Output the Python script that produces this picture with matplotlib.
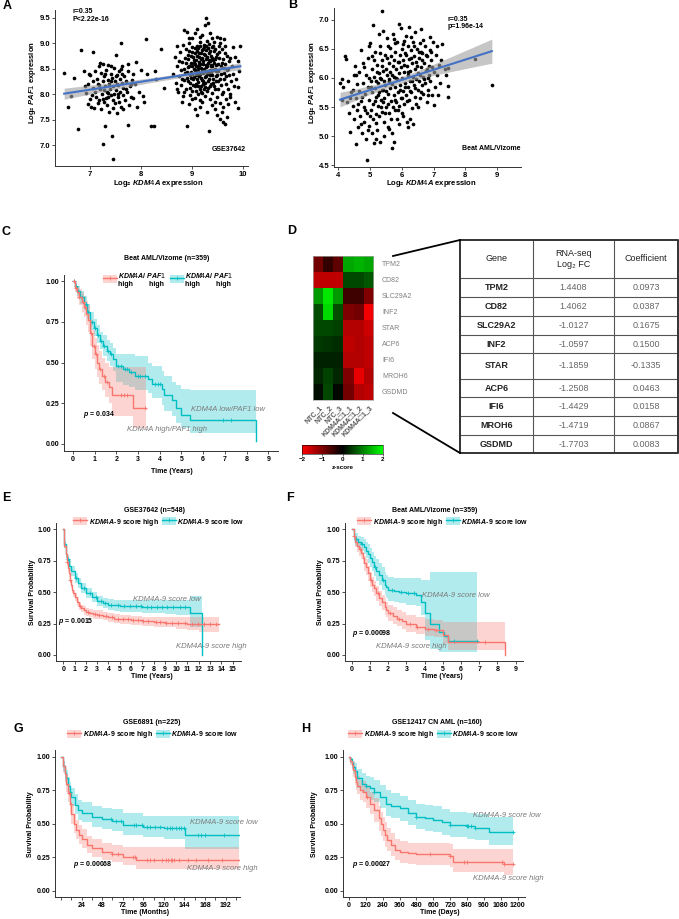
import numpy as np
import matplotlib
matplotlib.use('Agg')
from matplotlib import pyplot as plt
from matplotlib.colors import LinearSegmentedColormap
from matplotlib.patches import Patch
from matplotlib.lines import Line2D

plt.rcParams['font.family'] = ['Liberation Sans', 'DejaVu Sans']
plt.rcParams['mathtext.fontset'] = 'custom'
plt.rcParams['mathtext.rm'] = 'Liberation Sans'
plt.rcParams['mathtext.it'] = 'Liberation Sans:italic:bold'
plt.rcParams['mathtext.bf'] = 'Liberation Sans:bold'

W, H = 679, 919
RED = '#F8766D'
TEAL = '#00BFC4'
GREYTXT = '#7a7a7a'

# ---------------- data ----------------
# A: GSE37642, log2 KDM4A vs log2 PAF1
a_pts = [
    (6.49, 8.41), (6.57, 7.74), (6.63, 7.96), (6.69, 8.32), (6.76, 7.32), (6.83, 8.86), (6.88, 8.45), (6.90, 8.15),
    (6.92, 8.02), (6.95, 7.80), (6.97, 8.40), (7.00, 8.38), (7.02, 7.75), (7.03, 7.98), (7.05, 8.83), (7.05, 8.12),
    (7.08, 7.72), (7.10, 8.05), (7.12, 7.95), (7.13, 8.30), (7.15, 8.20), (7.17, 7.88), (7.18, 8.55), (7.20, 8.10),
    (7.21, 8.42), (7.22, 7.70), (7.23, 8.00), (7.25, 7.03), (7.25, 8.25), (7.26, 8.60), (7.27, 7.85), (7.28, 8.35),
    (7.30, 7.38), (7.30, 8.15), (7.31, 7.92), (7.32, 8.48), (7.33, 8.05), (7.34, 7.78), (7.35, 8.28), (7.36, 8.58),
    (7.37, 7.65), (7.38, 8.20), (7.39, 8.10), (7.40, 7.98), (7.41, 8.40), (7.42, 7.18), (7.43, 8.32), (7.44, 7.88),
    (7.45, 6.73), (7.45, 8.15), (7.46, 8.52), (7.47, 8.00), (7.48, 7.82), (7.49, 8.25), (7.50, 8.77), (7.50, 8.08),
    (7.52, 7.62), (7.53, 8.38), (7.54, 7.95), (7.55, 8.18), (7.56, 8.45), (7.57, 7.85), (7.58, 8.30), (7.59, 8.05),
    (7.60, 9.00), (7.61, 7.75), (7.62, 8.22), (7.63, 8.55), (7.64, 7.98), (7.65, 8.12), (7.67, 8.35), (7.68, 7.88),
    (7.70, 8.25), (7.72, 8.05), (7.74, 8.45), (7.75, 7.40), (7.76, 7.78), (7.78, 8.15), (7.80, 7.95), (7.82, 8.28),
    (7.85, 7.92), (7.88, 8.20), (7.90, 8.63), (7.92, 7.75), (7.95, 8.05), (8.00, 8.48), (8.03, 7.97), (8.05, 7.85),
    (8.10, 9.08), (8.12, 8.40), (8.20, 7.38), (8.25, 7.37), (8.28, 8.45), (8.30, 8.30), (8.40, 8.88), (8.45, 8.12),
    (7.05, 8.25), (7.10, 8.45), (7.15, 7.82), (7.20, 8.62), (7.25, 7.90), (7.30, 8.40), (7.35, 8.02), (7.40, 8.55),
    (7.45, 7.72), (7.50, 8.35), (7.55, 8.00), (7.60, 8.50), (7.65, 7.70), (7.70, 8.10), (7.75, 8.60), (7.80, 8.20),
    (7.85, 8.40), (7.00, 7.90), (6.95, 8.20), (7.40, 8.25), (7.52, 8.20), (7.28, 8.08), (7.62, 8.40), (7.18, 8.18),
    (7.36, 7.95),
    (9.28, 9.50), (9.25, 9.36), (9.31, 9.39), (8.85, 9.25), (8.90, 9.22), (9.05, 9.20), (8.95, 9.10), (9.15, 9.12),
    (9.40, 9.10), (9.50, 9.12), (9.55, 9.10), (9.62, 9.08), (8.70, 8.95), (9.80, 8.92), (9.95, 8.95), (9.85, 8.72),
    (9.90, 8.65), (9.90, 8.13), (9.90, 7.72), (9.75, 8.00), (9.70, 7.80), (9.60, 7.45), (9.65, 7.42), (9.55, 7.52),
    (9.58, 7.65), (9.33, 7.27), (8.90, 7.37), (9.10, 7.60), (9.15, 7.75), (8.80, 7.85), (9.00, 7.90), (9.45, 7.70),
    (9.68, 7.55),
    (8.62, 8.40), (8.66, 8.72), (8.68, 8.22), (8.71, 8.55), (8.73, 8.05), (8.74, 8.36), (8.76, 8.82), (8.78, 8.18),
    (8.79, 8.48), (8.81, 8.63), (8.82, 8.96), (8.83, 7.96), (8.84, 8.27), (8.86, 8.41), (8.87, 8.71), (8.88, 8.88),
    (8.89, 8.11), (8.91, 8.31), (8.92, 8.53), (8.93, 8.77), (8.94, 9.01), (8.96, 7.99), (8.97, 8.21), (8.98, 8.43),
    (8.99, 8.61), (9.00, 8.83), (9.01, 8.06), (9.02, 8.29), (9.03, 8.49), (9.04, 8.67), (9.05, 8.91), (9.06, 7.93),
    (9.06, 8.16), (9.07, 8.37), (9.08, 8.56), (9.09, 8.74), (9.10, 8.95), (9.11, 8.01), (9.12, 8.23), (9.12, 8.45),
    (9.13, 8.63), (9.14, 8.81), (9.15, 9.02), (9.16, 7.88), (9.16, 8.11), (9.17, 8.31), (9.18, 8.51), (9.18, 8.69),
    (9.19, 8.87), (9.20, 8.03), (9.21, 8.20), (9.21, 8.41), (9.22, 8.59), (9.23, 8.79), (9.24, 8.97), (9.25, 7.96),
    (9.25, 8.13), (9.26, 8.34), (9.27, 8.53), (9.27, 8.68), (9.28, 8.86), (9.29, 9.05), (9.30, 8.06), (9.31, 8.26),
    (9.31, 8.46), (9.32, 8.62), (9.33, 8.80), (9.34, 8.99), (9.35, 7.91), (9.35, 8.16), (9.36, 8.38), (9.37, 8.55),
    (9.38, 8.75), (9.39, 8.92), (9.40, 8.02), (9.41, 8.22), (9.42, 8.48), (9.42, 8.66), (9.43, 8.85), (9.44, 9.03),
    (9.45, 7.85), (9.46, 8.10), (9.47, 8.35), (9.48, 8.58), (9.49, 8.78), (9.50, 7.95), (9.51, 8.25), (9.52, 8.45),
    (9.53, 8.70), (9.54, 8.95), (9.55, 7.82), (9.56, 8.18), (9.57, 8.40), (9.58, 8.62), (9.59, 8.88), (9.61, 8.05),
    (9.62, 8.30), (9.63, 8.52), (9.64, 8.80), (9.66, 7.90), (9.67, 8.20), (9.68, 8.48), (9.69, 8.75), (9.71, 8.10),
    (9.72, 8.38), (9.73, 8.65), (9.76, 8.25), (9.78, 8.55), (9.05, 8.60), (9.15, 8.40), (9.20, 8.70), (9.10, 8.30),
    (9.25, 8.45), (9.00, 8.40), (9.30, 8.55), (9.35, 8.65), (8.95, 8.55), (9.12, 8.90), (9.22, 8.25), (9.18, 8.15),
    (9.28, 8.35), (9.08, 8.20), (9.40, 8.38), (9.38, 8.58), (9.33, 8.42), (9.45, 8.68), (9.02, 8.72), (9.48, 8.45),
    (8.98, 8.32), (9.23, 8.92), (9.14, 8.58),
    (8.85, 8.50), (8.88, 8.62), (8.90, 8.44), (8.92, 8.68), (8.93, 8.25), (8.95, 8.85), (8.96, 8.38), (8.97, 8.12),
    (8.99, 8.74), (9.00, 8.56), (9.01, 8.93), (9.02, 8.18), (9.03, 8.62), (9.04, 8.34), (9.05, 8.80), (9.06, 8.48),
    (9.07, 8.07), (9.08, 8.66), (9.09, 8.40), (9.10, 8.85), (9.11, 8.52), (9.12, 8.15), (9.13, 8.72), (9.14, 8.35),
    (9.15, 8.95), (9.16, 8.60), (9.17, 8.05), (9.18, 8.80), (9.19, 8.45), (9.20, 8.28), (9.21, 8.88), (9.22, 8.64),
    (9.23, 8.10), (9.24, 8.50), (9.25, 8.76), (9.26, 8.22), (9.27, 8.95), (9.28, 8.58), (9.29, 8.40), (9.30, 8.72),
    (9.31, 8.12), (9.32, 8.90), (9.33, 8.30), (9.34, 8.66), (9.35, 8.48), (9.36, 8.84), (9.37, 8.20), (9.38, 8.43),
    (9.39, 8.70), (9.40, 8.55), (9.41, 8.95), (9.42, 8.30), (9.43, 8.62), (9.44, 8.15), (9.45, 8.50), (9.46, 8.88),
    (9.47, 8.25), (9.48, 8.72), (9.50, 8.38), (9.51, 8.60), (9.52, 8.10), (9.53, 8.82), (9.55, 8.30), (9.56, 8.55),
    (9.58, 8.00), (9.60, 8.68), (9.62, 8.42), (9.65, 8.60), (9.67, 8.35), (9.70, 8.50), (9.74, 8.70), (9.80, 8.40),
    (9.82, 8.15), (9.86, 8.30), (9.92, 8.45), (8.95, 7.80), (9.20, 7.85), (9.40, 7.78), (9.05, 7.70), (9.50, 7.60),
    (9.30, 7.65), (9.60, 7.75), (8.80, 8.30), (8.75, 8.65), (8.70, 8.10), (9.55, 9.00), (9.65, 8.95), (9.00, 9.10),
    (9.20, 9.15), (9.35, 9.20), (9.10, 9.28), (8.85, 8.05), (9.75, 7.95), (9.85, 7.85),
]

# B: Beat AML/Vizome
b_pts = [
    (4.05, 5.92), (4.10, 5.98), (4.12, 5.62), (4.15, 5.85), (4.20, 6.38), (4.25, 6.33), (4.28, 5.58), (4.30, 5.95),
    (4.33, 5.40), (4.38, 5.07), (4.40, 5.75), (4.45, 5.52), (4.48, 6.05), (4.50, 5.30),
    (4.52, 6.20), (4.55, 4.86), (4.56, 5.65), (4.58, 5.90), (4.60, 5.45), (4.62, 5.15), (4.64, 6.10), (4.66, 5.78),
    (4.68, 5.35), (4.70, 6.48), (4.72, 5.60), (4.74, 5.05), (4.76, 5.92), (4.78, 6.25), (4.80, 5.50), (4.82, 5.25),
    (4.84, 5.72), (4.86, 6.05), (4.88, 4.95), (4.90, 4.59), (4.90, 5.40), (4.92, 5.85), (4.94, 6.35), (4.96, 5.62),
    (4.98, 5.18),
    (5.00, 6.60), (5.02, 5.95), (5.03, 5.45), (5.05, 5.75), (5.06, 6.15), (5.08, 5.30), (5.10, 6.90), (5.10, 5.55),
    (5.12, 4.88), (5.13, 6.02), (5.15, 5.82), (5.16, 6.45), (5.18, 5.38), (5.20, 5.68), (5.21, 6.22), (5.23, 5.10),
    (5.24, 5.92), (5.26, 5.52), (5.28, 6.08), (5.29, 5.75), (5.30, 6.55), (5.32, 4.90), (5.33, 5.62), (5.35, 5.98),
    (5.36, 6.30), (5.37, 7.14), (5.38, 5.42), (5.40, 5.80), (5.42, 6.81), (5.42, 6.12), (5.44, 5.25), (5.45, 5.65),
    (5.46, 6.40), (5.48, 5.88),
    (5.50, 5.50), (5.52, 6.05), (5.53, 6.68), (5.55, 5.72), (5.56, 5.15), (5.58, 6.25), (5.59, 5.95), (5.60, 5.40),
    (5.62, 6.52), (5.63, 5.82), (5.64, 6.10), (5.66, 5.60), (5.67, 6.38), (5.68, 5.05), (5.70, 5.90), (5.71, 6.20),
    (5.72, 6.75), (5.74, 4.90), (5.74, 5.70), (5.76, 6.02), (5.77, 5.45), (5.78, 6.45), (5.80, 5.85), (5.81, 6.15),
    (5.82, 5.58), (5.84, 6.62), (5.85, 5.98), (5.86, 5.30), (5.88, 6.28), (5.89, 5.75), (5.90, 6.08), (5.92, 5.52),
    (5.93, 6.40), (5.94, 5.88), (5.96, 6.85), (5.97, 6.18), (5.98, 5.65),
    (6.00, 6.00), (6.01, 5.40), (6.03, 6.30), (6.04, 5.78), (6.05, 6.58), (6.07, 6.10), (6.08, 5.55), (6.10, 5.92),
    (6.11, 6.42), (6.12, 6.72), (6.14, 5.70), (6.15, 6.20), (6.16, 5.25), (6.18, 6.05), (6.19, 6.55), (6.20, 5.85),
    (6.22, 6.32), (6.23, 5.62), (6.24, 6.88), (6.26, 6.12), (6.27, 5.95), (6.28, 6.48), (6.30, 5.75), (6.31, 6.25),
    (6.32, 5.48), (6.34, 6.02), (6.35, 6.62), (6.36, 5.20), (6.37, 5.88), (6.38, 6.38), (6.40, 6.15), (6.41, 5.68),
    (6.42, 6.78), (6.44, 5.98), (6.45, 6.28), (6.46, 5.55), (6.48, 6.50),
    (6.50, 6.08), (6.52, 5.80), (6.53, 6.35), (6.55, 5.95), (6.56, 6.60), (6.58, 5.65), (6.60, 6.18), (6.62, 6.84),
    (6.63, 5.88), (6.65, 6.42), (6.66, 6.02), (6.68, 5.72), (6.70, 6.25), (6.72, 6.55), (6.74, 5.92), (6.76, 6.12),
    (6.78, 5.58), (6.80, 6.38), (6.82, 6.00), (6.84, 5.80), (6.86, 6.20), (6.88, 6.48), (6.90, 5.95), (6.92, 6.30),
    (6.95, 5.70), (6.97, 6.62), (7.00, 5.53), (7.00, 6.10),
    (7.05, 5.85), (7.08, 6.40), (7.10, 6.05), (7.15, 5.70), (7.18, 6.22), (7.22, 5.92), (7.28, 6.58), (7.35, 6.15),
    (7.47, 6.17), (7.47, 5.86), (7.47, 5.67), (8.31, 6.32), (8.84, 5.88),
    (5.76, 6.67), (6.08, 6.64), (5.28, 6.75), (5.90, 6.92),
    (4.62, 5.55), (4.70, 5.20), (4.75, 5.68), (4.85, 5.45), (4.92, 5.10), (4.96, 6.00), (5.00, 5.35), (5.04, 5.85),
    (5.07, 5.05), (5.11, 6.30), (5.14, 5.60), (5.17, 5.95), (5.19, 5.22), (5.22, 6.10), (5.25, 5.70), (5.27, 5.35),
    (5.31, 6.00), (5.34, 5.50), (5.37, 5.80), (5.39, 6.20), (5.41, 5.58), (5.43, 5.95), (5.47, 5.40), (5.49, 6.15),
    (5.51, 5.78), (5.54, 6.35), (5.57, 5.55), (5.61, 5.98), (5.65, 5.30), (5.69, 6.05), (5.73, 5.50), (5.75, 6.30),
    (5.79, 5.62), (5.83, 6.00), (5.87, 5.45), (5.91, 6.28), (5.95, 5.80), (5.99, 6.50), (6.02, 5.65), (6.06, 6.22),
    (6.09, 5.85), (6.13, 6.40), (6.17, 5.60), (6.21, 6.10), (6.25, 5.78), (6.29, 6.35), (6.33, 5.95), (6.39, 6.55),
    (6.43, 5.82), (6.47, 6.20), (6.51, 5.50), (6.54, 6.45), (6.57, 6.05), (6.61, 5.75), (6.64, 6.30), (6.67, 6.65),
    (6.71, 5.98), (6.75, 6.40), (6.79, 6.15), (6.83, 5.70), (6.87, 6.05), (6.91, 6.45), (6.96, 6.18), (5.20, 4.95),
    (5.45, 5.00), (5.60, 5.12), (5.90, 5.20), (6.05, 5.35), (6.25, 5.30), (5.05, 6.38), (5.30, 6.42), (5.55, 6.55),
    (5.80, 6.60), (6.30, 6.70), (6.60, 6.45), (6.90, 6.70), (4.45, 5.80), (4.55, 6.05), (4.35, 5.65), (4.80, 6.18),
    (4.95, 6.55), (5.70, 4.80), (6.20, 5.15), (7.12, 6.55), (7.25, 6.30), (7.40, 6.05),
]

# D: heatmap (z-score) and table
hm_genes = ['TPM2', 'CD82', 'SLC29A2', 'INF2', 'STAR', 'ACP6', 'IFI6', 'MROH6', 'GSDMD']
hm_samples = ['NTC_1', 'NTC_2', 'NTC_3', 'KDM4A\u25a11_1', 'KDM4A\u25a11_2', 'KDM4A\u25a11_3']
hm_z = [
    [-0.9, -0.4, -0.75, 1.3, 1.4, 1.3],
    [-1.5, -1.5, -1.5, 0.55, 0.55, 0.7],
    [1.2, 1.8, 1.2, -0.5, -0.5, -1.0],
    [0.6, 1.7, 0.6, -1.0, -0.9, -1.9],
    [0.55, 0.55, 0.5, -1.4, -1.4, -1.6],
    [0.45, 0.4, 0.35, -1.5, -1.4, -1.5],
    [0.25, 0.25, 0.25, -1.4, -1.4, -1.5],
    [0.3, 0.5, 0.3, -1.0, -1.8, -1.4],
    [0.1, 0.55, 0.05, -0.9, -1.4, -1.5],
]
tab_fc = ['1.4408', '1.4062', '-1.0127', '-1.0597', '-1.1859', '-1.2508', '-1.4429', '-1.4719', '-1.7703']
tab_coef = ['0.0973', '0.0387', '0.1675', '0.1500', '-0.1335', '0.0463', '0.0158', '0.0867', '0.0083']

# C: Beat AML/Vizome, KDM4A/PAF1 groups (years)
c_red_t = [0, 0.1, 0.2, 0.3, 0.4, 0.5, 0.6, 0.7, 0.8, 0.9, 1.0, 1.1, 1.2, 1.35, 1.5, 1.65, 1.8, 2.75, 3.35]
c_red_s = [1.0, 0.96, 0.93, 0.90, 0.87, 0.84, 0.80, 0.76, 0.68, 0.60, 0.55, 0.50, 0.46, 0.42, 0.38, 0.35, 0.30, 0.22, 0.22]
c_red_lo = [1.0, 0.93, 0.89, 0.85, 0.81, 0.78, 0.73, 0.69, 0.60, 0.52, 0.46, 0.41, 0.37, 0.33, 0.29, 0.25, 0.17, 0.10, 0.10]
c_red_hi = [1.0, 0.99, 0.97, 0.95, 0.93, 0.91, 0.88, 0.85, 0.77, 0.70, 0.65, 0.61, 0.57, 0.53, 0.50, 0.47, 0.47, 0.47, 0.47]
c_red_cens = [0.05, 0.15, 0.3, 0.45, 0.55, 0.85, 0.95, 1.05, 1.25, 1.45, 1.55, 2.2, 2.35, 2.5, 3.3]
c_teal_t = [0, 0.1, 0.2, 0.35, 0.5, 0.65, 0.8, 0.95, 1.1, 1.25, 1.4, 1.55, 1.7, 1.85, 2.0, 2.3, 2.6, 2.85,
            3.45, 3.65, 4.1, 4.2, 4.55, 4.75, 5.0, 5.38, 8.42]
c_teal_s = [1.0, 0.97, 0.94, 0.90, 0.86, 0.81, 0.75, 0.71, 0.67, 0.63, 0.60, 0.57, 0.55, 0.52, 0.48, 0.46, 0.44, 0.42,
            0.40, 0.37, 0.34, 0.30, 0.27, 0.22, 0.18, 0.15, 0.02]
c_teal_lo = [1.0, 0.95, 0.91, 0.86, 0.82, 0.77, 0.70, 0.66, 0.62, 0.58, 0.54, 0.51, 0.48, 0.45, 0.38, 0.36, 0.35, 0.33,
             0.31, 0.28, 0.24, 0.20, 0.17, 0.13, 0.10, 0.07, 0.07]
c_teal_hi = [1.0, 0.99, 0.97, 0.94, 0.91, 0.86, 0.81, 0.77, 0.73, 0.69, 0.67, 0.64, 0.62, 0.59, 0.55, 0.55, 0.55, 0.54,
             0.50, 0.48, 0.45, 0.42, 0.38, 0.36, 0.34, 0.33, 0.33]
c_teal_cens = [0.05, 0.12, 0.25, 0.4, 0.6, 0.7, 0.9, 1.0, 1.15, 1.3, 1.45, 1.6, 1.75, 2.1, 2.2, 2.4, 2.5, 2.7,
               3.0, 3.1, 3.3, 3.8, 3.9, 4.0, 6.9, 7.3]

# E: GSE37642 (years)
e_red_t = [0, 0.05, 0.1, 0.2, 0.3, 0.4, 0.5, 0.6, 0.7, 0.8, 0.9, 1.0, 1.2, 1.4, 1.6, 1.8, 2.0, 2.3, 2.6, 3.0,
           3.5, 4.0, 4.5, 5.0, 6.0, 7.0, 8.0, 9.0, 10.0, 11.0, 12.0, 13.8]
e_red_s = [1.0, 0.93, 0.87, 0.80, 0.74, 0.69, 0.65, 0.60, 0.56, 0.52, 0.49, 0.46, 0.42, 0.39, 0.37, 0.355, 0.34, 0.33,
           0.325, 0.32, 0.31, 0.30, 0.29, 0.285, 0.275, 0.268, 0.262, 0.258, 0.254, 0.25, 0.248, 0.248]
e_red_lo = [1.0, 0.91, 0.85, 0.77, 0.71, 0.66, 0.62, 0.57, 0.53, 0.49, 0.46, 0.43, 0.39, 0.36, 0.34, 0.32, 0.31, 0.30,
            0.29, 0.285, 0.275, 0.265, 0.255, 0.25, 0.24, 0.23, 0.225, 0.22, 0.21, 0.20, 0.18, 0.17]
e_red_hi = [1.0, 0.95, 0.90, 0.83, 0.77, 0.72, 0.68, 0.63, 0.59, 0.55, 0.52, 0.49, 0.45, 0.42, 0.40, 0.39, 0.375, 0.365,
            0.36, 0.355, 0.345, 0.335, 0.325, 0.32, 0.31, 0.305, 0.30, 0.30, 0.30, 0.30, 0.305, 0.305]
e_red_cens = [0.3, 0.6, 1.5, 2.2, 2.8, 3.2, 3.8, 4.3, 4.8, 5.3, 5.7, 6.2, 6.6, 7.1, 7.5, 8.2, 8.6, 9.1, 9.6,
              10.2, 10.8, 11.4, 11.9, 12.5, 13.0, 13.5]
e_teal_t = [0, 0.05, 0.1, 0.2, 0.3, 0.5, 0.7, 1.0, 1.3, 1.6, 2.0, 2.5, 3.0, 3.5, 4.0, 4.5, 5.0, 6.0, 7.0, 8.0,
            9.0, 10.0, 11.2, 12.3]
e_teal_s = [1.0, 0.94, 0.88, 0.80, 0.76, 0.71, 0.67, 0.61, 0.57, 0.53, 0.49, 0.46, 0.43, 0.41, 0.40, 0.395, 0.39, 0.39,
            0.385, 0.385, 0.38, 0.38, 0.33, 0.0]
e_teal_lo = [1.0, 0.92, 0.85, 0.77, 0.73, 0.67, 0.63, 0.57, 0.53, 0.49, 0.45, 0.42, 0.39, 0.37, 0.355, 0.35, 0.345,
             0.34, 0.335, 0.33, 0.325, 0.32, 0.22, 0.22]
e_teal_hi = [1.0, 0.96, 0.91, 0.83, 0.79, 0.75, 0.71, 0.65, 0.61, 0.57, 0.53, 0.50, 0.47, 0.45, 0.445, 0.44, 0.435,
             0.435, 0.435, 0.435, 0.435, 0.44, 0.47, 0.47]
e_teal_cens = [0.4, 1.1, 1.8, 2.4, 2.9, 3.3, 3.7, 4.2, 4.8, 5.4, 5.9, 6.4, 6.9, 7.4, 7.8, 8.3, 8.7, 9.2, 9.7, 10.3, 10.8]

# F: Beat AML/Vizome KDM4A-9 score (years)
f_red_t = [0, 0.1, 0.2, 0.3, 0.4, 0.5, 0.6, 0.7, 0.8, 0.9, 1.0, 1.1, 1.2, 1.35, 1.5, 1.65, 1.8, 1.9, 2.0, 2.25,
           2.5, 2.75, 3.0, 3.5, 4.0, 4.5, 5.0, 5.3, 8.4]
f_red_s = [1.0, 0.95, 0.90, 0.87, 0.84, 0.81, 0.77, 0.73, 0.70, 0.65, 0.60, 0.56, 0.53, 0.49, 0.45, 0.42, 0.385, 0.36,
           0.33, 0.31, 0.29, 0.27, 0.245, 0.225, 0.21, 0.20, 0.155, 0.105, 0.0]
f_red_lo = [1.0, 0.92, 0.86, 0.82, 0.79, 0.76, 0.72, 0.67, 0.64, 0.59, 0.54, 0.50, 0.47, 0.43, 0.39, 0.36, 0.32, 0.30,
            0.27, 0.25, 0.23, 0.21, 0.185, 0.165, 0.15, 0.14, 0.09, 0.04, 0.04]
f_red_hi = [1.0, 0.98, 0.94, 0.92, 0.89, 0.86, 0.82, 0.79, 0.76, 0.71, 0.66, 0.62, 0.59, 0.55, 0.51, 0.48, 0.45, 0.42,
            0.40, 0.38, 0.36, 0.34, 0.32, 0.30, 0.285, 0.28, 0.26, 0.265, 0.265]
f_red_cens = [0.15, 0.45, 1.05, 1.45, 2.1, 2.6, 3.2, 3.6, 4.2, 4.6, 7.3]
f_teal_t = [0, 0.1, 0.2, 0.35, 0.5, 0.65, 0.8, 0.9, 1.0, 1.1, 1.2, 1.35, 1.5, 1.65, 1.8, 1.9, 2.0, 2.3, 2.6, 3.0,
            3.5, 3.8, 4.0, 4.3, 4.8, 5.05, 5.3, 6.9]
f_teal_s = [1.0, 0.95, 0.92, 0.90, 0.88, 0.86, 0.83, 0.80, 0.77, 0.74, 0.70, 0.67, 0.64, 0.60, 0.56, 0.54, 0.52, 0.51,
            0.50, 0.49, 0.48, 0.42, 0.33, 0.25, 0.185, 0.15, 0.115, 0.115]
f_teal_lo = [1.0, 0.91, 0.87, 0.85, 0.83, 0.80, 0.77, 0.73, 0.70, 0.67, 0.63, 0.59, 0.56, 0.52, 0.48, 0.45, 0.43, 0.42,
             0.41, 0.40, 0.39, 0.32, 0.12, 0.05, 0.02, 0.02, 0.02, 0.02]
f_teal_hi = [1.0, 0.99, 0.97, 0.95, 0.94, 0.92, 0.90, 0.88, 0.85, 0.82, 0.79, 0.76, 0.73, 0.70, 0.66, 0.64, 0.62, 0.61,
             0.61, 0.61, 0.61, 0.60, 0.60, 0.66, 0.66, 0.66, 0.66, 0.66]
f_teal_cens = [0.25, 0.55, 1.25, 1.7, 2.2, 2.7, 3.1, 3.4, 5.6, 6.9]

# G: GSE6891 (months)
g_red_t = [0, 2, 4, 6, 8, 10, 12, 15, 18, 21, 24, 30, 36, 48, 60, 72, 87, 208]
g_red_s = [1.0, 0.93, 0.87, 0.80, 0.73, 0.65, 0.57, 0.50, 0.455, 0.42, 0.39, 0.34, 0.318, 0.293, 0.275, 0.256, 0.23, 0.23]
g_red_lo = [1.0, 0.88, 0.81, 0.74, 0.66, 0.58, 0.50, 0.43, 0.39, 0.35, 0.32, 0.28, 0.255, 0.23, 0.215, 0.195, 0.165, 0.165]
g_red_hi = [1.0, 0.97, 0.93, 0.87, 0.80, 0.72, 0.64, 0.57, 0.53, 0.49, 0.46, 0.41, 0.385, 0.36, 0.345, 0.33, 0.325, 0.325]
g_red_cens = [9, 11, 60, 66, 84, 86, 100, 104, 108, 118, 122, 125, 128, 130, 132, 138, 148, 158, 172, 188]
g_teal_t = [0, 2, 4, 6, 8, 10, 12, 16, 20, 24, 36, 48, 60, 72, 96, 120, 145, 208]
g_teal_s = [1.0, 0.93, 0.88, 0.84, 0.78, 0.74, 0.70, 0.64, 0.60, 0.578, 0.553, 0.536, 0.524, 0.49, 0.474, 0.47, 0.42, 0.42]
g_teal_lo = [1.0, 0.89, 0.83, 0.78, 0.72, 0.67, 0.63, 0.57, 0.53, 0.51, 0.48, 0.465, 0.45, 0.42, 0.40, 0.39, 0.31, 0.31]
g_teal_hi = [1.0, 0.97, 0.94, 0.90, 0.85, 0.81, 0.77, 0.72, 0.68, 0.66, 0.635, 0.62, 0.61, 0.58, 0.56, 0.555, 0.56, 0.56]
g_teal_cens = [10, 58, 64, 70, 85, 88, 94, 100, 104, 110, 116, 124, 127, 130, 134, 138, 140, 143, 160, 163, 168, 190]

# H: GSE12417 CN AML (days)
h_red_t = [0, 10, 20, 30, 40, 50, 60, 80, 100, 120, 150, 180, 210, 225, 240, 255, 270, 300, 330, 360, 420, 480,
           720, 740, 1100, 1170]
h_red_s = [1.0, 0.97, 0.94, 0.90, 0.85, 0.81, 0.78, 0.75, 0.74, 0.70, 0.65, 0.60, 0.54, 0.50, 0.454, 0.42, 0.38, 0.34,
           0.305, 0.288, 0.28, 0.275, 0.263, 0.218, 0.20, 0.20]
h_red_lo = [1.0, 0.94, 0.90, 0.85, 0.79, 0.75, 0.72, 0.68, 0.66, 0.62, 0.57, 0.51, 0.45, 0.41, 0.37, 0.33, 0.30, 0.26,
            0.23, 0.21, 0.20, 0.195, 0.18, 0.14, 0.12, 0.12]
h_red_hi = [1.0, 0.99, 0.98, 0.96, 0.92, 0.89, 0.86, 0.83, 0.82, 0.79, 0.74, 0.69, 0.63, 0.59, 0.55, 0.51, 0.47, 0.43,
            0.39, 0.37, 0.36, 0.36, 0.35, 0.31, 0.31, 0.31]
h_red_cens = [130, 580, 720, 820, 840, 1090, 1100, 1170]
h_teal_t = [0, 10, 20, 30, 40, 60, 90, 120, 150, 180, 220, 260, 300, 360, 420, 480, 540, 600, 660, 720, 840, 900,
            1000, 1170]
h_teal_s = [1.0, 0.98, 0.95, 0.92, 0.89, 0.84, 0.80, 0.78, 0.764, 0.74, 0.70, 0.65, 0.63, 0.615, 0.578, 0.55, 0.54,
            0.53, 0.51, 0.49, 0.484, 0.47, 0.44, 0.44]
h_teal_lo = [1.0, 0.95, 0.91, 0.87, 0.83, 0.77, 0.73, 0.70, 0.68, 0.66, 0.62, 0.56, 0.54, 0.52, 0.49, 0.46, 0.45,
             0.44, 0.42, 0.40, 0.39, 0.38, 0.34, 0.34]
h_teal_hi = [1.0, 1.0, 0.99, 0.97, 0.95, 0.91, 0.88, 0.86, 0.85, 0.83, 0.79, 0.75, 0.73, 0.71, 0.68, 0.65, 0.64,
             0.63, 0.61, 0.59, 0.58, 0.57, 0.55, 0.55]
h_teal_cens = [120, 180, 480, 720, 840, 850, 870, 900, 1170]

# ---------------- drawing ----------------
fig = plt.figure(figsize=(W / 100, H / 100), dpi=100)


def add_ax(x0, y0, x1, y1):
    return fig.add_axes([x0 / W, 1 - y1 / H, (x1 - x0) / W, (y1 - y0) / H])


def ftext(x, y, s, **kw):
    fig.text(x / W, 1 - y / H, s, **kw)


def style(ax, fs=5):
    for sp in ['top', 'right']:
        ax.spines[sp].set_visible(False)
    for sp in ['left', 'bottom']:
        ax.spines[sp].set_linewidth(0.7)
        ax.spines[sp].set_color('#333333')
    ax.tick_params(length=2, width=0.6, labelsize=fs, pad=1.5, color='#333333')
    for lab in ax.get_xticklabels() + ax.get_yticklabels():
        lab.set_fontweight('bold')


def scatter_panel(box, pts, xlim, ylim, xt, yt):
    ax = add_ax(*box)
    x = np.array([p[0] for p in pts])
    y = np.array([p[1] for p in pts])
    ax.scatter(x, y, s=7, c='black', lw=0, zorder=2)
    b1, b0 = np.polyfit(x, y, 1)
    xs = np.linspace(x.min(), x.max(), 100)
    yh = b0 + b1 * xs
    res = y - (b0 + b1 * x)
    s2 = (res ** 2).sum() / (len(x) - 2)
    se = np.sqrt(s2 * (1 / len(x) + (xs - x.mean()) ** 2 / ((x - x.mean()) ** 2).sum()))
    ax.fill_between(xs, yh - 1.97 * se, yh + 1.97 * se, color='#a0a0a0', alpha=0.6, lw=0, zorder=3)
    ax.plot(xs, yh, color='#4472C4', lw=1.5, zorder=4)
    ax.set_xlim(xlim)
    ax.set_ylim(ylim)
    ax.set_xticks(xt)
    ax.set_yticks(yt)
    ax.set_yticklabels(['%.1f' % v for v in yt])
    style(ax, 5.5)
    return ax


# A
ax = scatter_panel((55, 10, 248, 166), a_pts, (6.31, 10.1), (6.59, 9.65), [7, 8, 9, 10],
                   [7.0, 7.5, 8.0, 8.5, 9.0, 9.5])
ax.text(6.66, 9.68, 'r=0.35\nP<2.22e-16', fontsize=5, fontweight='bold', va='top', ha='left', linespacing=1.1)
ax.text(10.06, 6.92, 'GSE37642', fontsize=5, fontweight='bold', va='center', ha='right')
ftext(158, 183, 'Log\u2082 $KDM4A$ expression', fontsize=5.5, fontweight='bold', ha='center', va='center')
ftext(33, 83, 'Log\u2082 $PAF1$ expression', fontsize=5.5, fontweight='bold', ha='center', va='center', rotation=90)

# B
ax = scatter_panel((334, 8, 521, 167), b_pts, (3.86, 9.76), (4.47, 7.2), [4, 5, 6, 7, 8, 9],
                   [4.5, 5.0, 5.5, 6.0, 6.5, 7.0])
ax.text(7.43, 7.07, 'r=0.35\np=1.96e-14', fontsize=5, fontweight='bold', va='top', ha='left', linespacing=1.1)
ax.text(9.73, 4.78, 'Beat AML/Vizome', fontsize=5, fontweight='bold', va='center', ha='right')
ftext(431, 183, 'Log\u2082 $KDM4A$ expression', fontsize=5.5, fontweight='bold', ha='center', va='center')
ftext(313, 83, 'Log\u2082 $PAF1$ expression', fontsize=5.5, fontweight='bold', ha='center', va='center', rotation=90)


def km(ax, t, s, lo, hi, cens, col):
    ax.fill_between(t, lo, hi, step='post', color=col, alpha=0.3, lw=0)
    ax.step(t, s, where='post', color=col, lw=1)
    idx = np.searchsorted(t, cens, side='right') - 1
    ax.plot(cens, np.asarray(s)[idx], '+', color=col, ms=3, mew=0.6, ls='none')


def km_axes(box, xlim, ylim, xticks, xlabels):
    ax = add_ax(*box)
    ax.set_xlim(xlim)
    ax.set_ylim(ylim)
    ax.set_xticks(xticks)
    ax.set_xticklabels(xlabels)
    ax.set_yticks([0, 0.25, 0.5, 0.75, 1.0])
    ax.set_yticklabels(['0.00', '0.25', '0.50', '0.75', '1.00'])
    style(ax, 5)
    return ax


def km_legend(cx, cy, labels):
    hs = [(Patch(facecolor=RED, alpha=0.3, lw=0), Line2D([], [], color=RED, marker='+', lw=1, ms=3, mew=0.6)),
          (Patch(facecolor=TEAL, alpha=0.3, lw=0), Line2D([], [], color=TEAL, marker='+', lw=1, ms=3, mew=0.6))]
    fig.legend(hs, labels, loc='center', bbox_to_anchor=(cx / W, 1 - cy / H), ncol=2, frameon=False,
               prop={'size': 5, 'weight': 'bold'}, handlelength=2.0, handleheight=1.3, handletextpad=0.2,
               columnspacing=0.5, borderaxespad=0, borderpad=0)


def grey_note(ax, x, y, s):
    ax.text(x, y, s, fontsize=5.5, fontstyle='italic', color=GREYTXT, ha='left', va='center')


def p_note(ax, x, y, s):
    ax.text(x, y, '$p$ = ' + s, fontsize=5, fontweight='bold', ha='left', va='center')


# C
ax = km_axes((64, 275, 278, 451), (-0.41, 9.45), (-0.043, 1.037), range(10), [str(i) for i in range(10)])
km(ax, c_teal_t, c_teal_s, c_teal_lo, c_teal_hi, c_teal_cens, TEAL)
km(ax, c_red_t, c_red_s, c_red_lo, c_red_hi, c_red_cens, RED)
p_note(ax, 0.46, 0.18, '0.034')
grey_note(ax, 2.47, 0.086, 'KDM4A high/PAF1 high')
grey_note(ax, 5.42, 0.21, 'KDM4A low/PAF1 low')
ftext(167, 259, 'Beat AML/Vizome (n=359)', fontsize=5, fontweight='bold', ha='center', va='center')
ftext(172, 471, 'Time (Years)', fontsize=5, fontweight='bold', ha='center', va='center')
km_legend(168, 279, ['$KDM4A$/ $PAF1$\nhigh        high', '$KDM4A$/ $PAF1$\nhigh        high'])

# D heatmap
cmap = LinearSegmentedColormap.from_list('rg', ['#FF0000', '#000000', '#00FF00'])
hm = add_ax(313, 256, 373, 400)
im = hm.imshow(np.array(hm_z), cmap=cmap, vmin=-2, vmax=2, aspect='auto', interpolation='nearest')
hm.set_xticks([])
hm.set_yticks([])
for sp in hm.spines.values():
    sp.set_color('#aaaaaa')
    sp.set_linewidth(0.5)
for i, g in enumerate(hm_genes):
    hm.text(6.4, i, g, fontsize=5, color='#808080', ha='left', va='center')
for j, c in enumerate(hm_samples):
    hm.text(j + 0.35, 8.9, c, fontsize=5, fontweight='bold', color='#555555', rotation=45,
            rotation_mode='anchor', ha='right', va='center')
cax = add_ax(302, 445, 383, 454)
cb = fig.colorbar(im, cax=cax, orientation='horizontal', ticks=[-2, -1, 0, 1, 2])
cb.outline.set_linewidth(0.4)
cax.tick_params(labelsize=4.5, length=1.5, width=0.4, pad=1)
for lab in cax.get_xticklabels():
    lab.set_fontweight('bold')
ftext(343, 467, 'z-score', fontsize=4.5, fontweight='bold', ha='center', va='center')

# D table
tb = add_ax(460, 240, 678, 453)
tb.set_xlim(0, 218)
tb.set_ylim(213.3, 0)
tb.axis('off')
col_x = [0, 73, 154, 218]
row_y = [0, 37.7, 56.7, 75.7, 95, 113.3, 139, 157.7, 176.7, 195.7, 213.3]
for yy in row_y[1:-1]:
    tb.plot([0, 218], [yy, yy], color='#555555', lw=0.8)
for xx in col_x[1:-1]:
    tb.plot([xx, xx], [0, 213.3], color='#555555', lw=0.8)
tb.plot([0, 218, 218, 0, 0], [0, 0, 213.3, 213.3, 0], color='#333333', lw=1.4, clip_on=False)
heads = ['Gene', 'RNA-seq\nLog\u2082 FC', 'Coefficient']
for k in range(3):
    tb.text((col_x[k] + col_x[k + 1]) / 2, row_y[1] / 2, heads[k], fontsize=6.5, color='#222222',
            ha='center', va='center', linespacing=1.2)
for i, g in enumerate(hm_genes):
    yc = (row_y[i + 1] + row_y[i + 2]) / 2
    tb.text(36.5, yc, g, fontsize=6.5, fontweight='bold', color='#222222', ha='center', va='center')
    tb.text(113.5, yc, tab_fc[i], fontsize=6.5, color='#666666', ha='center', va='center')
    tb.text(186, yc, tab_coef[i], fontsize=6.5, color='#666666', ha='center', va='center')
fig.add_artist(Line2D([393 / W, 460 / W], [1 - 256 / H, 1 - 240 / H], color='black', lw=1.3))
fig.add_artist(Line2D([393 / W, 460 / W], [1 - 413 / H, 1 - 453 / H], color='black', lw=1.3))

score_labels = ['$KDM4A$-9 score high', '$KDM4A$-9 score low']

# E
ax = km_axes((56, 523, 241, 661), (-0.65, 15.74), (-0.048, 1.05), range(16), [str(i) for i in range(16)])
km(ax, e_teal_t, e_teal_s, e_teal_lo, e_teal_hi, e_teal_cens, TEAL)
km(ax, e_red_t, e_red_s, e_red_lo, e_red_hi, e_red_cens, RED)
p_note(ax, -0.47, 0.27, '0.0015')
grey_note(ax, 6.2, 0.44, 'KDM4A-9 score low')
grey_note(ax, 9.97, 0.066, 'KDM4A-9 score high')
ftext(154, 511, 'GSE37642 (n=548)', fontsize=5, fontweight='bold', ha='center', va='center')
ftext(152, 677, 'Time (Years)', fontsize=5, fontweight='bold', ha='center', va='center')
ftext(32, 592, 'Survival Probability', fontsize=5, fontweight='bold', ha='center', va='center', rotation=90)
km_legend(159, 522, score_labels)

# F
ax = km_axes((345, 523, 523, 661), (-0.37, 9.4), (-0.048, 1.05), range(10), [str(i) for i in range(10)])
km(ax, f_teal_t, f_teal_s, f_teal_lo, f_teal_hi, f_teal_cens, TEAL)
km(ax, f_red_t, f_red_s, f_red_lo, f_red_hi, f_red_cens, RED)
p_note(ax, 0.0, 0.17, '0.00098')
grey_note(ax, 3.84, 0.47, 'KDM4A-9 score low')
grey_note(ax, 1.33, 0.07, 'KDM4A-9 score high')
ftext(435, 511, 'Beat AML/Vizome (n=359)', fontsize=5, fontweight='bold', ha='center', va='center')
ftext(442, 677, 'Time (Years)', fontsize=5, fontweight='bold', ha='center', va='center')
ftext(320, 592, 'Survival Probability', fontsize=5, fontweight='bold', ha='center', va='center', rotation=90)
km_legend(443, 522, score_labels)

# G
g_ticks = list(range(0, 205, 12))
g_labs = [str(v) if v % 24 == 0 and v > 0 else '' for v in g_ticks]
ax = km_axes((55, 750, 240, 897), (-7.1, 208.9), (-0.045, 1.05), g_ticks, g_labs)
km(ax, g_teal_t, g_teal_s, g_teal_lo, g_teal_hi, g_teal_cens, TEAL)
km(ax, g_red_t, g_red_s, g_red_lo, g_red_hi, g_red_cens, RED)
p_note(ax, 13.5, 0.2, '0.00068')
grey_note(ax, 150.4, 0.51, 'KDM4A-9 score low')
grey_note(ax, 146.5, 0.164, 'KDM4A-9 score high')
ftext(152, 723, 'GSE6891 (n=225)', fontsize=5, fontweight='bold', ha='center', va='center')
ftext(145, 913, 'Time (Months)', fontsize=5, fontweight='bold', ha='center', va='center')
ftext(30, 824, 'Survival Probability', fontsize=5, fontweight='bold', ha='center', va='center', rotation=90)
km_legend(153, 735, score_labels)

# H
h_ticks = list(range(0, 1201, 120))
ax = km_axes((343, 750, 525, 897), (-43, 1253), (-0.045, 1.05), h_ticks, [str(v) for v in h_ticks])
km(ax, h_teal_t, h_teal_s, h_teal_lo, h_teal_hi, h_teal_cens, TEAL)
km(ax, h_red_t, h_red_s, h_red_lo, h_red_hi, h_red_cens, RED)
p_note(ax, 24, 0.2, '0.00027')
grey_note(ax, 884, 0.56, 'KDM4A-9 score low')
grey_note(ax, 884, 0.09, 'KDM4A-9 score high')
ftext(437, 723, 'GSE12417 CN AML (n=160)', fontsize=5, fontweight='bold', ha='center', va='center')
ftext(440, 913, 'Time (Days)', fontsize=5, fontweight='bold', ha='center', va='center')
ftext(315, 824, 'Survival Probability', fontsize=5, fontweight='bold', ha='center', va='center', rotation=90)
km_legend(434, 735, score_labels)

# panel letters
for lab, x, y in [('A', 7, 6), ('B', 293, 5), ('C', 6, 232), ('D', 292, 231),
                  ('E', 6, 498), ('F', 290, 498), ('G', 18, 729), ('H', 306, 729)]:
    ftext(x, y, lab, fontsize=9, fontweight='bold', ha='center', va='center')

fig.savefig('out.png', dpi=100)
